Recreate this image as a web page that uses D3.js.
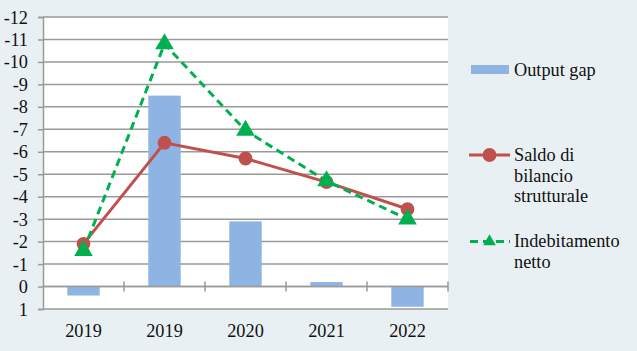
<!DOCTYPE html>
<html><head><meta charset="utf-8">
<script src="https://cdn.jsdelivr.net/npm/d3@7"></script>
<style>html,body{margin:0;padding:0;background:#e9f0f3;}svg{display:block;}</style>
</head><body>
<svg id="c" width="637" height="351"></svg>
<script>
const categories = ["2019", "2019", "2020", "2021", "2022"];
const outputGap = [0.4, -8.5, -2.9, -0.2, 0.9];
const saldo = [-1.9, -6.4, -5.7, -4.65, -3.45];
const indebitamento = [-1.6, -10.8, -6.95, -4.7, -3.0];
const yTicks = [-12, -11, -10, -9, -8, -7, -6, -5, -4, -3, -2, -1, 0, 1];
const legendLabels = [["Output gap"], ["Saldo di", "bilancio", "strutturale"], ["Indebitamento", "netto"]];

const svg = d3.select("#c");
const FONT = '"Liberation Serif"';
const FS = 18.3;
const L = 43, R = 448, T = 17, B = 309;
const gridColor = "#9a9a9a";

svg.append("rect").attr("x", L).attr("y", T).attr("width", R - L).attr("height", B - T).attr("fill", "#fff");

const x = d3.scaleBand().domain(d3.range(categories.length)).range([L, R]).paddingInner(0.6).paddingOuter(0.3);
const xc = i => x(i) + x.bandwidth() / 2;
const y = d3.scaleLinear().domain([-12, 1]).range([T, B]);

svg.append("g").selectAll("line").data(yTicks).join("line")
  .attr("x1", L).attr("x2", R).attr("y1", d => y(d)).attr("y2", d => y(d))
  .attr("stroke", gridColor).attr("stroke-width", 1.5);

const yAxis = d3.axisLeft(y).tickValues(yTicks).tickSize(5).tickPadding(10).tickFormat(d => String(d));
const gy = svg.append("g").attr("transform", `translate(${L},0)`).call(yAxis);
gy.select(".domain").attr("stroke", gridColor).attr("stroke-width", 1.5);
gy.selectAll(".tick line").attr("stroke", gridColor).attr("stroke-width", 1.5);
gy.selectAll("text").style("font-family", FONT).style("font-size", FS + "px").attr("fill", "#111").attr("dy", "0.33em");

svg.append("g").selectAll("rect").data(outputGap).join("rect")
  .attr("x", (d, i) => x(i)).attr("width", x.bandwidth())
  .attr("y", d => Math.min(y(d), y(0))).attr("height", d => Math.abs(y(d) - y(0)))
  .attr("fill", "#8eb4e3");

const boundaries = d3.range(categories.length + 1).map(i => L + i * (R - L) / categories.length);
svg.append("line").attr("x1", L).attr("x2", R).attr("y1", y(0)).attr("y2", y(0)).attr("stroke", gridColor).attr("stroke-width", 1.5);
svg.append("g").selectAll("line").data(boundaries.slice(1)).join("line")
  .attr("x1", d => d).attr("x2", d => d).attr("y1", y(0) - 5).attr("y2", y(0) + 5)
  .attr("stroke", gridColor).attr("stroke-width", 1.5);
svg.append("g").selectAll("text").data(categories).join("text")
  .attr("x", (d, i) => xc(i)).attr("y", 336.5).attr("text-anchor", "middle")
  .style("font-family", FONT).style("font-size", FS + "px").attr("fill", "#111").text(d => d);

const line = d3.line().x((d, i) => xc(i)).y(d => y(d));
svg.append("path").datum(saldo).attr("d", line).attr("fill", "none").attr("stroke", "#c0504d").attr("stroke-width", 3);
svg.append("path").datum(indebitamento).attr("d", line).attr("fill", "none").attr("stroke", "#00b050").attr("stroke-width", 3).attr("stroke-dasharray", "8,5");

const circ = d3.symbol().type(d3.symbolCircle).size(150);
const tri = d3.symbol().type(d3.symbolTriangle).size(150);
svg.append("g").selectAll("path").data(saldo).join("path")
  .attr("d", circ).attr("transform", (d, i) => `translate(${xc(i)},${y(d)})`).attr("fill", "#c0504d");
svg.append("g").selectAll("path").data(indebitamento).join("path")
  .attr("d", tri).attr("transform", (d, i) => `translate(${xc(i)},${y(d)})`).attr("fill", "#00b050");

const lg = svg.append("g");
lg.append("rect").attr("x", 471).attr("y", 65).attr("width", 38).attr("height", 9).attr("fill", "#8eb4e3");
lg.append("line").attr("x1", 469).attr("x2", 510).attr("y1", 155).attr("y2", 155).attr("stroke", "#c0504d").attr("stroke-width", 3);
lg.append("path").attr("d", circ).attr("transform", "translate(489.5,155)").attr("fill", "#c0504d");
lg.append("line").attr("x1", 469).attr("x2", 510).attr("y1", 241.5).attr("y2", 241.5).attr("stroke", "#00b050").attr("stroke-width", 3).attr("stroke-dasharray", "8,5").attr("stroke-dashoffset", -1);
lg.append("path").attr("d", d3.symbol().type(d3.symbolTriangle).size(70)).attr("transform", "translate(489.5,241.5)").attr("fill", "#00b050");
const starts = [75.5, 161, 247];
legendLabels.forEach((lines, k) => {
  lines.forEach((t, j) => {
    lg.append("text").attr("x", 514).attr("y", starts[k] + j * 20.7)
      .style("font-family", FONT).style("font-size", FS + "px").attr("fill", "#111").text(t);
  });
});
</script>
</body></html>
